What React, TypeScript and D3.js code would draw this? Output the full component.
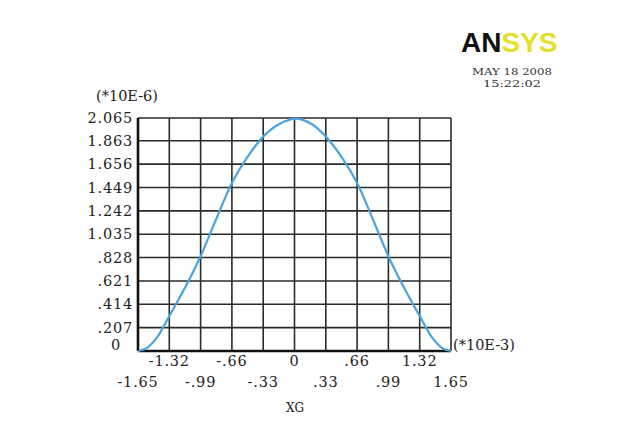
import React from "react";
import * as d3 from "d3";

const xTicksUpper = [-1.32, -0.66, 0, 0.66, 1.32];
const xTicksUpperLabels = ["-1.32", "-.66", "0", ".66", "1.32"];
const xTicksLower = [-1.65, -0.99, -0.33, 0.33, 0.99, 1.65];
const xTicksLowerLabels = ["-1.65", "-.99", "-.33", ".33", ".99", "1.65"];
const yTicks = [0, 0.207, 0.414, 0.621, 0.828, 1.035, 1.242, 1.449, 1.656, 1.863, 2.065];
const yTickLabels = ["0", ".207", ".414", ".621", ".828", "1.035", "1.242", "1.449", "1.656", "1.863", "2.065"];
const xGrid = [-1.65, -1.32, -0.99, -0.66, -0.33, 0, 0.33, 0.66, 0.99, 1.32, 1.65];

const curveX = [-1.65, -1.55, -1.45, -1.32, -1.155, -0.99, -0.825, -0.66, -0.495, -0.33, -0.165, 0.02, 0.185, 0.33, 0.495, 0.66, 0.825, 0.99, 1.155, 1.32, 1.45, 1.55, 1.65];
const curveY = [0, 0.03, 0.12, 0.31, 0.56, 0.84, 1.17, 1.49, 1.72, 1.90, 2.01, 2.06, 2.01, 1.90, 1.72, 1.49, 1.17, 0.84, 0.56, 0.31, 0.12, 0.03, 0];

export default function App() {
  const left = 138, right = 451, top = 118, bottom = 351;
  const x = d3.scaleLinear().domain([-1.65, 1.65]).range([left, right]);
  const y = d3.scaleLinear().domain([0, 2.065]).range([bottom, top]);
  const pts: [number, number][] = curveX.map((v, i) => [v, curveY[i]]);
  const line = d3.line<[number, number]>().x(d => x(d[0])).y(d => y(d[1])).curve(d3.curveCatmullRom.alpha(0.5));
  const font = "'DejaVu Serif', serif";
  return (
    <svg width={621} height={435} style={{ position: "absolute", left: 0, top: 0, background: "#fff" }}>
      <rect x={0} y={0} width={621} height={435} fill="#fff" />
      {/* grid */}
      {xGrid.map((v, i) => (
        <line key={"vx" + i} x1={x(v)} x2={x(v)} y1={top} y2={bottom} stroke="#2a2a2a" strokeWidth={1.6} />
      ))}
      {yTicks.map((v, i) => (
        <line key={"hy" + i} x1={left} x2={right} y1={y(v)} y2={y(v)} stroke="#2a2a2a" strokeWidth={1.6} />
      ))}
      <line x1={left} x2={left} y1={top} y2={bottom} stroke="#111" strokeWidth={2.6} />
      <line x1={left} x2={right} y1={bottom} y2={bottom} stroke="#111" strokeWidth={2.6} />
      {/* curve */}
      <path d={line(pts) || ""} fill="none" stroke="#4aa3e0" strokeWidth={2.2} />
      {/* y labels */}
      {yTicks.map((v, i) => (
        <text key={"yl" + i} x={i === 0 ? 121 : 133} y={y(v) + (i === 0 ? -1 : 5)} textAnchor="end"
          fontFamily={font} fontSize={14.5} fill="#222" letterSpacing={0.8}>{yTickLabels[i]}</text>
      ))}
      <text x={96} y={101} fontFamily={font} fontSize={14.5} fill="#222">(*10E-6)</text>
      {/* x labels */}
      {xTicksUpper.map((v, i) => (
        <text key={"xu" + i} x={x(v)} y={366} textAnchor="middle" fontFamily={font} fontSize={14.5} fill="#222" letterSpacing={0.8}>{xTicksUpperLabels[i]}</text>
      ))}
      {xTicksLower.map((v, i) => (
        <text key={"xl" + i} x={x(v)} y={387} textAnchor="middle" fontFamily={font} fontSize={14.5} fill="#222" letterSpacing={0.8}>{xTicksLowerLabels[i]}</text>
      ))}
      <text x={453} y={350} fontFamily={font} fontSize={14.5} fill="#222">(*10E-3)</text>
      <text x={295} y={412} textAnchor="middle" fontFamily={font} fontSize={12} fill="#222">XG</text>
      {/* logo */}
      <text x={461} y={52} fontFamily="'Liberation Sans', Arial, sans-serif" fontWeight="bold" fontSize={28}>
        <tspan fill="#111">AN</tspan><tspan fill="#e6df2a">SYS</tspan>
      </text>
      <text x={472} y={75} fontFamily={font} fontSize={10} fill="#333" textLength={80} lengthAdjust="spacingAndGlyphs">MAY 18 2008</text>
      <text x={483} y={87} fontFamily={font} fontSize={10} fill="#333" textLength={58} lengthAdjust="spacingAndGlyphs">15:22:02</text>
    </svg>
  );
}
